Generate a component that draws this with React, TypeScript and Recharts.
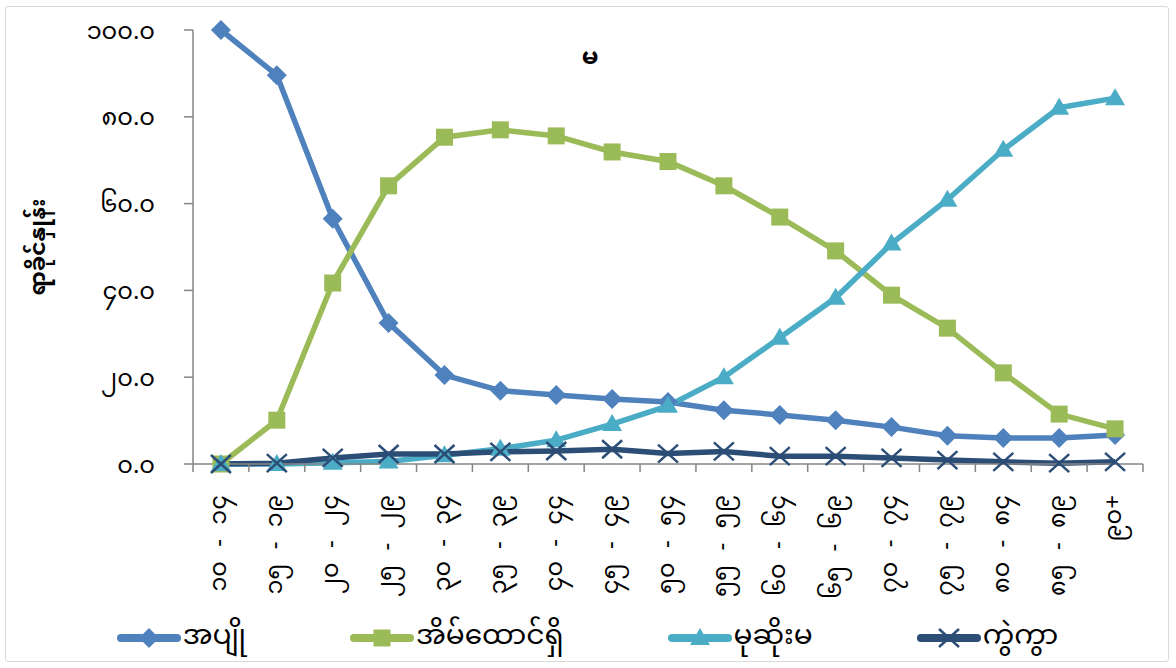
import React from 'react';
import { LineChart, Line, XAxis, YAxis, Legend } from 'recharts';

// အသက်အုပ်စုအလိုက် အိမ်ထောင်ရေးအခြေအနေ (မ)
const ageGroups = [
  '၁၀ - ၁၄', '၁၅ - ၁၉', '၂၀ - ၂၄', '၂၅ - ၂၉', '၃၀ - ၃၄', '၃၅ - ၃၉',
  '၄၀ - ၄၄', '၄၅ - ၄၉', '၅၀ - ၅၄', '၅၅ - ၅၉', '၆၀ - ၆၄', '၆၅ - ၆၉',
  '၇၀ - ၇၄', '၇၅ - ၇၉', '၈၀ - ၈၄', '၈၅ - ၈၉', '၉၀+',
];
const singleRate = [100, 89.6, 56.5, 32.5, 20.5, 16.9, 15.9, 15.0, 14.3, 12.4, 11.3, 10.1, 8.5, 6.5, 6.0, 6.0, 6.7];
const marriedRate = [0, 10.1, 41.7, 64.1, 75.3, 77.0, 75.6, 71.9, 69.7, 64.1, 56.9, 49.1, 38.9, 31.3, 21.0, 11.5, 8.1];
const widowedRate = [0, 0, 0.3, 0.6, 2.0, 3.5, 5.5, 9.2, 13.4, 20.0, 29.1, 38.3, 50.8, 60.9, 72.4, 82.1, 84.3];
const divorcedRate = [0, 0.2, 1.4, 2.3, 2.3, 2.8, 3.0, 3.4, 2.4, 2.9, 1.8, 1.8, 1.4, 0.9, 0.5, 0.2, 0.5];
const yTicks = [0, 20, 40, 60, 80, 100];

const FONT = "'Noto Sans Myanmar', 'Myanmar Text', 'Padauk', 'Myanmar3', 'Noto Sans', sans-serif";
const AXIS_GRAY = '#868686';

const series = [
  { key: 'single', name: 'အပျို', color: '#4F81BD', shape: 'diamond' },
  { key: 'married', name: 'အိမ်ထောင်ရှိ', color: '#9BBB59', shape: 'square' },
  { key: 'widowed', name: 'မုဆိုးမ', color: '#4BACC6', shape: 'triangle' },
  { key: 'divorced', name: 'ကွဲကွာ', color: '#2C4D75', shape: 'cross' },
];

const data = ageGroups.map((age, i) => ({
  age,
  single: singleRate[i],
  married: marriedRate[i],
  widowed: widowedRate[i],
  divorced: divorcedRate[i],
}));

const toMyanmar = (s: string) =>
  s.replace(/[0-9]/g, (d) => String.fromCharCode(0x1040 + Number(d)));

const Marker = ({ cx, cy, shape, color }: any) => {
  if (cx == null || cy == null) return null;
  switch (shape) {
    case 'diamond':
      return <polygon points={`${cx},${cy - 10} ${cx + 10},${cy} ${cx},${cy + 10} ${cx - 10},${cy}`} fill={color} />;
    case 'square':
      return <rect x={cx - 8.5} y={cy - 8.5} width={17} height={17} fill={color} />;
    case 'triangle':
      return <polygon points={`${cx},${cy - 10} ${cx + 10},${cy + 7} ${cx - 10},${cy + 7}`} fill={color} />;
    case 'cross':
      return (
        <g stroke={color} strokeWidth={2.5}>
          <line x1={cx - 10} y1={cy - 9} x2={cx + 10} y2={cy + 9} />
          <line x1={cx - 10} y1={cy + 9} x2={cx + 10} y2={cy - 9} />
        </g>
      );
    default:
      return null;
  }
};

// tick labels rotated, tick marks between categories like Excel
const AgeTick = (props: any) => {
  const { x, y, payload, index } = props;
  const half = payload.offset || 0;
  const ty = y + 31;
  return (
    <g>
      <line x1={x - half} x2={x - half} y1={y} y2={y + 8} stroke={AXIS_GRAY} strokeWidth={1.5} />
      {index === ageGroups.length - 1 && (
        <line x1={x + half} x2={x + half} y1={y} y2={y + 8} stroke={AXIS_GRAY} strokeWidth={1.5} />
      )}
      <text
        x={x}
        y={ty}
        transform={`rotate(-90, ${x}, ${ty})`}
        textAnchor="end"
        dominantBaseline="central"
        fontSize={24}
        wordSpacing={8}
        fontFamily={FONT}
        fill="#000"
      >
        {payload.value}
      </text>
    </g>
  );
};

const YLabel = (props: any) => {
  const { viewBox } = props;
  const cx = viewBox.x + 24;
  const cy = viewBox.y + viewBox.height / 2;
  return (
    <text
      x={cx}
      y={cy}
      transform={`rotate(-90, ${cx}, ${cy})`}
      textAnchor="middle"
      dominantBaseline="central"
      fontSize={22}
      fontWeight="bold"
      fontFamily={FONT}
      fill="#000"
    >
      ရာခိုင်နှုန်း
    </text>
  );
};

const LegendContent = () => (
  <div
    style={{
      display: 'flex',
      justifyContent: 'center',
      alignItems: 'center',
      gap: 104,
      height: 44,
      paddingLeft: 16,
      paddingTop: 4,
      boxSizing: 'border-box',
      fontFamily: FONT,
      fontSize: 28,
      color: '#000',
    }}
  >
    {series.map((s) => (
      <div key={s.key} style={{ display: 'flex', alignItems: 'center' }}>
        <svg width={64} height={24}>
          <line x1={4} x2={60} y1={12} y2={12} stroke={s.color} strokeWidth={8} strokeLinecap="round" />
          <Marker cx={32} cy={12} shape={s.shape} color={s.color} />
        </svg>
        <span style={{ marginLeft: 2, lineHeight: '40px' }}>{s.name}</span>
      </div>
    ))}
  </div>
);

export default function App() {
  return (
    <div style={{ position: 'absolute', left: 0, top: 0, width: 1176, height: 668, background: '#fff' }}>
      <div
        style={{
          position: 'absolute',
          left: 5,
          top: 6,
          width: 1164,
          height: 656,
          border: '1.5px solid #D9D9D9',
          borderRadius: 3,
          boxSizing: 'border-box',
        }}
      />
      <div style={{ position: 'absolute', left: 8, top: 8, width: 1160, height: 650 }}>
        <LineChart width={1160} height={650} data={data} margin={{ top: 22, right: 25, left: 8, bottom: 0 }}>
          <XAxis
            dataKey="age"
            scale="band"
            interval={0}
            tickLine={false}
            tickSize={0}
            tickMargin={0}
            height={150}
            tick={<AgeTick />}
            axisLine={{ stroke: AXIS_GRAY, strokeWidth: 1.5 }}
          />
          <YAxis
            domain={[0, 100]}
            ticks={yTicks}
            width={177}
            tickSize={9}
            tickMargin={29}
            tickFormatter={(v: number) => toMyanmar(v.toFixed(1))}
            tick={{ fill: '#000', fontSize: 24, fontFamily: FONT }}
            tickLine={{ stroke: AXIS_GRAY, strokeWidth: 1.5 }}
            axisLine={{ stroke: AXIS_GRAY, strokeWidth: 1.5 }}
            label={<YLabel />}
          />
          <Legend verticalAlign="bottom" height={44} content={<LegendContent />} />
          {series.map((s) => (
            <Line
              key={s.key}
              dataKey={s.key}
              name={s.name}
              type="linear"
              stroke={s.color}
              strokeWidth={5.5}
              isAnimationActive={false}
              dot={(p: any) => <Marker key={`${s.key}-${p.index}`} cx={p.cx} cy={p.cy} shape={s.shape} color={s.color} />}
              activeDot={false}
            />
          ))}
        </LineChart>
        <div
          style={{
            position: 'absolute',
            left: 582,
            top: 36,
            transform: 'translateX(-50%)',
            fontFamily: FONT,
            fontSize: 24,
            fontWeight: 'bold',
            lineHeight: '30px',
          }}
        >
          မ
        </div>
      </div>
    </div>
  );
}
